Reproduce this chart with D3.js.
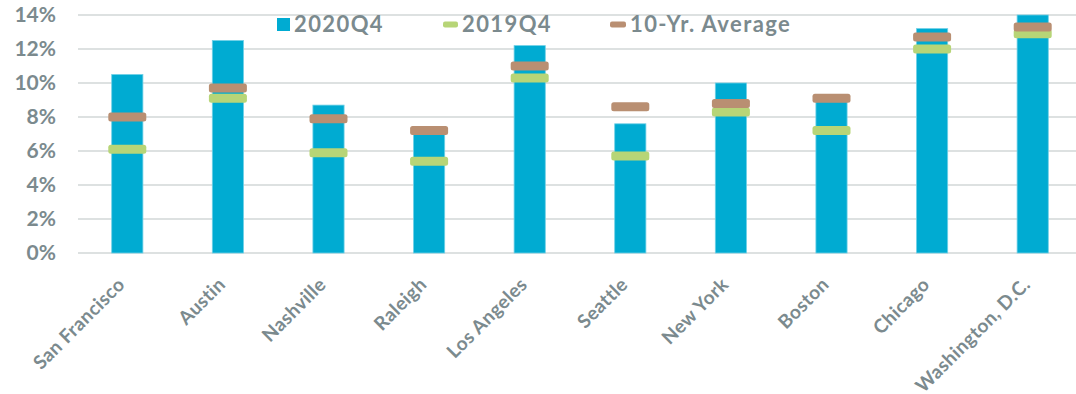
<!DOCTYPE html>
<html>
<head>
<meta charset="utf-8">
<script src="https://cdn.jsdelivr.net/npm/d3@7"></script>
<style>
  html, body { margin: 0; padding: 0; background: #fff; }
  svg { display: block; font-family: Lato, "Open Sans", sans-serif; }
</style>
</head>
<body>
<svg id="chart" width="1076" height="394"></svg>
<script>
// Vacancy rates by metro
const cities = ["San Francisco", "Austin", "Nashville", "Raleigh", "Los Angeles",
                "Seattle", "New York", "Boston", "Chicago", "Washington, D.C."];
const q2020 = [10.5, 12.5, 8.7, 7.0, 12.2, 7.6, 10.0, 8.9, 13.2, 14.0];
const q2019 = [6.1, 9.1, 5.9, 5.4, 10.3, 5.7, 8.3, 7.2, 12.0, 12.9];
const avg10 = [8.0, 9.7, 7.9, 7.2, 11.0, 8.6, 8.8, 9.1, 12.7, 13.3];
const yTicks = [0, 2, 4, 6, 8, 10, 12, 14];
const legendLabels = ["2020Q4", "2019Q4", "10-Yr. Average"];

const colBar = "#00abd2", colGreen = "#b7d577", colBrown = "#b98f72";
const textCol = "#7b8a8e";

const svg = d3.select("#chart");
const x = d3.scaleBand().domain(cities).range([77, 1083]).paddingInner(0.69).paddingOuter(0.345);
const y = d3.scaleLinear().domain([0, 14]).range([253, 15]);

// gridlines
svg.append("g").selectAll("line").data(yTicks).join("line")
  .attr("x1", 78).attr("x2", 1076)
  .attr("y1", d => y(d)).attr("y2", d => y(d))
  .attr("stroke", "#dde1e1").attr("stroke-width", 2);

// y axis labels
const yAxis = d3.axisLeft(y).tickValues(yTicks).tickFormat(d => d + "%").tickSize(0).tickPadding(0);
svg.append("g").attr("transform", "translate(56,0)").call(yAxis)
  .call(g => g.select(".domain").remove())
  .selectAll("text").attr("fill", textCol).attr("font-size", 21).attr("font-weight", "bold")
  .attr("font-family", "Lato, sans-serif");

// bars
svg.append("g").selectAll("rect").data(cities).join("rect")
  .attr("x", d => x(d)).attr("width", x.bandwidth())
  .attr("y", (d, i) => y(Math.min(q2020[i], 14)))
  .attr("height", (d, i) => y(0) - y(Math.min(q2020[i], 14)))
  .attr("fill", colBar).attr("stroke", "#6fd0e6").attr("stroke-width", 0.8);

// marker bars
const mw = 38, mh = 9;
function markers(vals, col) {
  svg.append("g").selectAll("rect").data(cities).join("rect")
    .attr("x", d => x(d) + x.bandwidth() / 2 - mw / 2).attr("width", mw)
    .attr("y", (d, i) => y(vals[i]) - mh / 2).attr("height", mh)
    .attr("rx", 2.5).attr("fill", col);
}
markers(q2019, colGreen);
markers(avg10, colBrown);

// x labels
svg.append("g").selectAll("text").data(cities).join("text")
  .attr("transform", d => `translate(${x(d) + x.bandwidth() / 2 - 6},${281}) rotate(-45)`)
  .attr("text-anchor", "end").attr("dy", "0.35em")
  .attr("fill", textCol).attr("font-size", 19).attr("font-weight", "bold")
  .attr("letter-spacing", 0.4)
  .text(d => d);

// legend
const lg = svg.append("g");
lg.append("rect").attr("x", 277).attr("y", 18).attr("width", 13).attr("height", 13).attr("fill", colBar);
lg.append("rect").attr("x", 443).attr("y", 21.5).attr("width", 15).attr("height", 6).attr("rx", 2).attr("fill", colGreen);
lg.append("rect").attr("x", 610).attr("y", 21.5).attr("width", 16).attr("height", 6).attr("rx", 2).attr("fill", colBrown);
const lx = [294, 462, 630];
lg.selectAll("text").data(legendLabels).join("text")
  .attr("x", (d, i) => lx[i]).attr("y", 32)
  .attr("fill", textCol).attr("font-size", 22).attr("font-weight", "bold")
  .attr("letter-spacing", 1.4)
  .text(d => d);
</script>
</body>
</html>
